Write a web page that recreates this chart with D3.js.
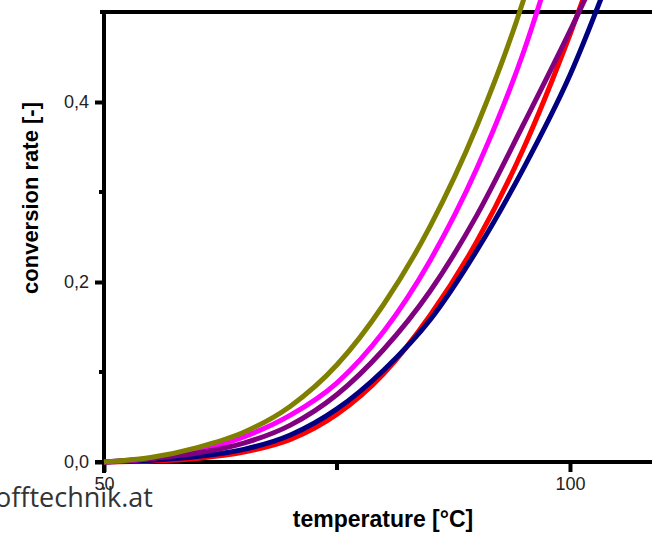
<!DOCTYPE html>
<html>
<head>
<meta charset="utf-8">
<script src="https://cdn.jsdelivr.net/npm/d3@7"></script>
<style>
  body { margin: 0; background: #fff; }
  svg { display: block; }
</style>
</head>
<body>
<div class="canvas"></div>
<script>
const dims = {width: 652, height: 534};

// data
const temps   = [50, 55, 60, 65, 70, 75, 80, 85, 90, 95, 100, 105];
const red     = [0, 0.001, 0.004, 0.011, 0.025, 0.053, 0.098, 0.163, 0.245, 0.348, 0.475, 0.62];
const navy    = [0, 0.002, 0.006, 0.014, 0.030, 0.059, 0.102, 0.158, 0.235, 0.326, 0.430, 0.56];
const magenta = [0, 0.004, 0.013, 0.028, 0.052, 0.088, 0.145, 0.224, 0.326, 0.455, 0.62, null];
const purple  = [0, 0.004, 0.010, 0.021, 0.041, 0.075, 0.125, 0.190, 0.274, 0.375, 0.479, 0.59];
const olive   = [0, 0.005, 0.016, 0.033, 0.062, 0.108, 0.175, 0.262, 0.373, 0.513, 0.70, null];

const yTicks = [0, 0.2, 0.4];
const yMinor = [0.1, 0.3];
const xTicks = [50, 100];
const xMinor = [75];

const series = [
  {name: 'red', values: red, color: '#ff0000'},
  {name: 'navy', values: navy, color: '#000080'},
  {name: 'magenta', values: magenta, color: '#ff00ff'},
  {name: 'purple', values: purple, color: '#800080'},
  {name: 'olive', values: olive, color: '#808000'}
];

const svg = d3.select('.canvas')
  .append('svg')
  .attr('width', dims.width)
  .attr('height', dims.height);

const x = d3.scaleLinear().domain([50, 108.8]).range([104, 652]);
const y = d3.scaleLinear().domain([0, 0.5]).range([462, 12]);

const fmt = d => d3.format('.1f')(d).replace('.', ',');

// watermark
svg.append('text')
  .attr('x', 153).attr('y', 507)
  .attr('text-anchor', 'end')
  .attr('fill', '#333')
  .style('font-family', '"Open Sans", sans-serif')
  .style('font-size', '27px')
  .text('offtechnik.at');

// top frame line
svg.append('line')
  .attr('x1', x(50) - 4).attr('x2', dims.width)
  .attr('y1', y(0.5)).attr('y2', y(0.5))
  .attr('stroke', '#000').attr('stroke-width', 4);

// y axis
const yAxis = svg.append('g')
  .attr('transform', `translate(${x(50)},0)`)
  .call(d3.axisLeft(y).tickValues(yTicks).tickFormat(fmt).tickSize(9).tickPadding(6));
yAxis.select('.domain').remove();
yAxis.append('line')
  .attr('y1', y(0.5) - 2).attr('y2', y(0) + 11)
  .attr('stroke', '#000').attr('stroke-width', 4);
yAxis.selectAll('.tick line').attr('stroke-width', 4);
yAxis.selectAll('.minor').data(yMinor).enter()
  .append('line')
  .attr('class', 'minor')
  .attr('x1', -5).attr('x2', 0)
  .attr('y1', d => y(d)).attr('y2', d => y(d))
  .attr('stroke', '#000').attr('stroke-width', 4);

// x axis
const xAxis = svg.append('g')
  .attr('transform', `translate(0,${y(0)})`)
  .call(d3.axisBottom(x).tickValues(xTicks).tickSize(10).tickPadding(5));
xAxis.select('.domain').remove();
xAxis.append('line')
  .attr('x1', x(50) - 9).attr('x2', dims.width)
  .attr('stroke', '#000').attr('stroke-width', 4);
xAxis.selectAll('.tick line').attr('stroke-width', 4);
xAxis.selectAll('.minor').data(xMinor).enter()
  .append('line')
  .attr('class', 'minor')
  .attr('x1', d => x(d)).attr('x2', d => x(d))
  .attr('y1', 0).attr('y2', 8)
  .attr('stroke', '#000').attr('stroke-width', 4);

svg.selectAll('.tick text')
  .attr('fill', '#222')
  .style('font-family', '"Liberation Sans", Arial, sans-serif')
  .style('font-size', '18px');

// curves
const line = d3.line()
  .defined(d => d.v !== null)
  .x(d => x(d.t))
  .y(d => y(d.v))
  .curve(d3.curveMonotoneX);

svg.selectAll('.curve')
  .data(series)
  .enter()
  .append('path')
  .attr('class', 'curve')
  .attr('fill', 'none')
  .attr('stroke', d => d.color)
  .attr('stroke-width', 5)
  .attr('d', d => line(temps.map((t, i) => ({t: t, v: d.values[i]}))));

// axis titles
svg.append('text')
  .attr('x', 383).attr('y', 527)
  .attr('text-anchor', 'middle')
  .style('font-family', '"Liberation Sans", Arial, sans-serif')
  .style('font-weight', 'bold')
  .style('font-size', '23px')
  .text('temperature [°C]');

svg.append('text')
  .attr('transform', 'translate(38,198) rotate(-90)')
  .attr('text-anchor', 'middle')
  .style('font-family', '"Liberation Sans", Arial, sans-serif')
  .style('font-weight', 'bold')
  .style('font-size', '22px')
  .text('conversion rate [-]');
</script>
</body>
</html>
